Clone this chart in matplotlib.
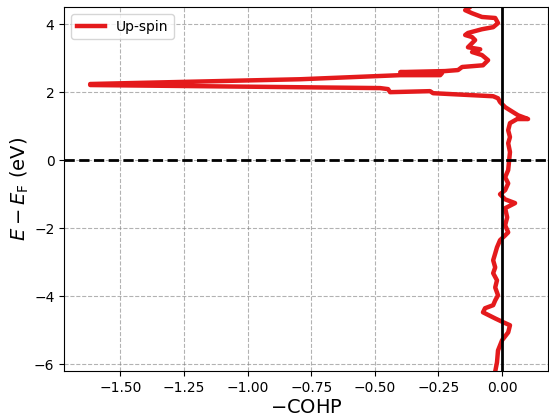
import numpy as np
import matplotlib
matplotlib.use("Agg")
import matplotlib.pyplot as plt

# energy (eV, relative to Fermi level) and -COHP values
energy = [-6.21, -5.94, -5.59, -5.29, -5.06, -4.85, -4.76, -4.65, -4.47, -4.35,
          -4.26, -4.12, -3.97, -3.74, -3.53, -3.32, -3.15, -2.94, -2.74, -2.56,
          -2.35, -2.21, -2.12, -1.91, -1.68, -1.41, -1.26, -1.15, -1.00, -0.88,
          -0.68, -0.50, -0.29, -0.06, 0.24, 0.50, 0.68, 0.88, 1.09, 1.21,
          1.21, 1.32, 1.47, 1.56, 1.71, 1.82, 1.88, 1.97, 2.03, 2.00,
          2.09, 2.12, 2.21, 2.24, 2.38, 2.50, 2.50, 2.56, 2.59, 2.62,
          2.65, 2.74, 2.79, 2.94, 3.09, 3.18, 3.26, 3.32, 3.44, 3.53,
          3.62, 3.68, 3.74, 3.85, 3.91, 4.03, 4.18, 4.21, 4.32, 4.41,
          4.50, 4.65]
cohp = [-0.027, -0.020, -0.016, 0.000, 0.024, 0.031, 0.004, -0.027, -0.075, -0.067,
        -0.035, -0.027, -0.016, -0.027, -0.020, -0.035, -0.027, -0.035, -0.027, -0.020,
        -0.008, 0.012, 0.024, 0.012, 0.020, 0.012, 0.051, 0.012, -0.008, 0.012,
        0.024, 0.012, 0.024, 0.027, 0.031, 0.024, 0.031, 0.024, 0.031, 0.059,
        0.102, 0.063, 0.031, 0.012, -0.008, -0.016, -0.035, -0.271, -0.283, -0.440,
        -0.448, -0.479, -1.618, -1.618, -0.793, -0.400, -0.243, -0.236, -0.400, -0.224,
        -0.173, -0.157, -0.075, -0.055, -0.079, -0.118, -0.086, -0.134, -0.118, -0.106,
        -0.118, -0.145, -0.134, -0.079, -0.035, -0.016, -0.027, -0.079, -0.118, -0.145,
        -0.126, -0.145]

fig = plt.figure(figsize=(5.49, 4.18), dpi=100)
ax = fig.add_axes([0.117, 0.112, 0.881, 0.871])

ax.plot(cohp, energy, color="#e41a1c", lw=3.2, label="Up-spin")
ax.axhline(0, color="black", ls="--", lw=2)
ax.axvline(0, color="black", lw=2)

ax.set_xlim(-1.72, 0.18)
ax.set_ylim(-6.2, 4.5)
ax.set_xticks(np.arange(-1.5, 0.01, 0.25))
ax.set_yticks([-6, -4, -2, 0, 2, 4])
ax.grid(True, ls="--", color="gray", alpha=0.6)
ax.set_xlabel(r"$-$COHP", fontsize=14, labelpad=2)
ax.set_ylabel(r"$E - E_\mathrm{F}$ (eV)", fontsize=14, labelpad=2)
ax.legend(loc="upper left")

plt.savefig("out.png", dpi=100)
